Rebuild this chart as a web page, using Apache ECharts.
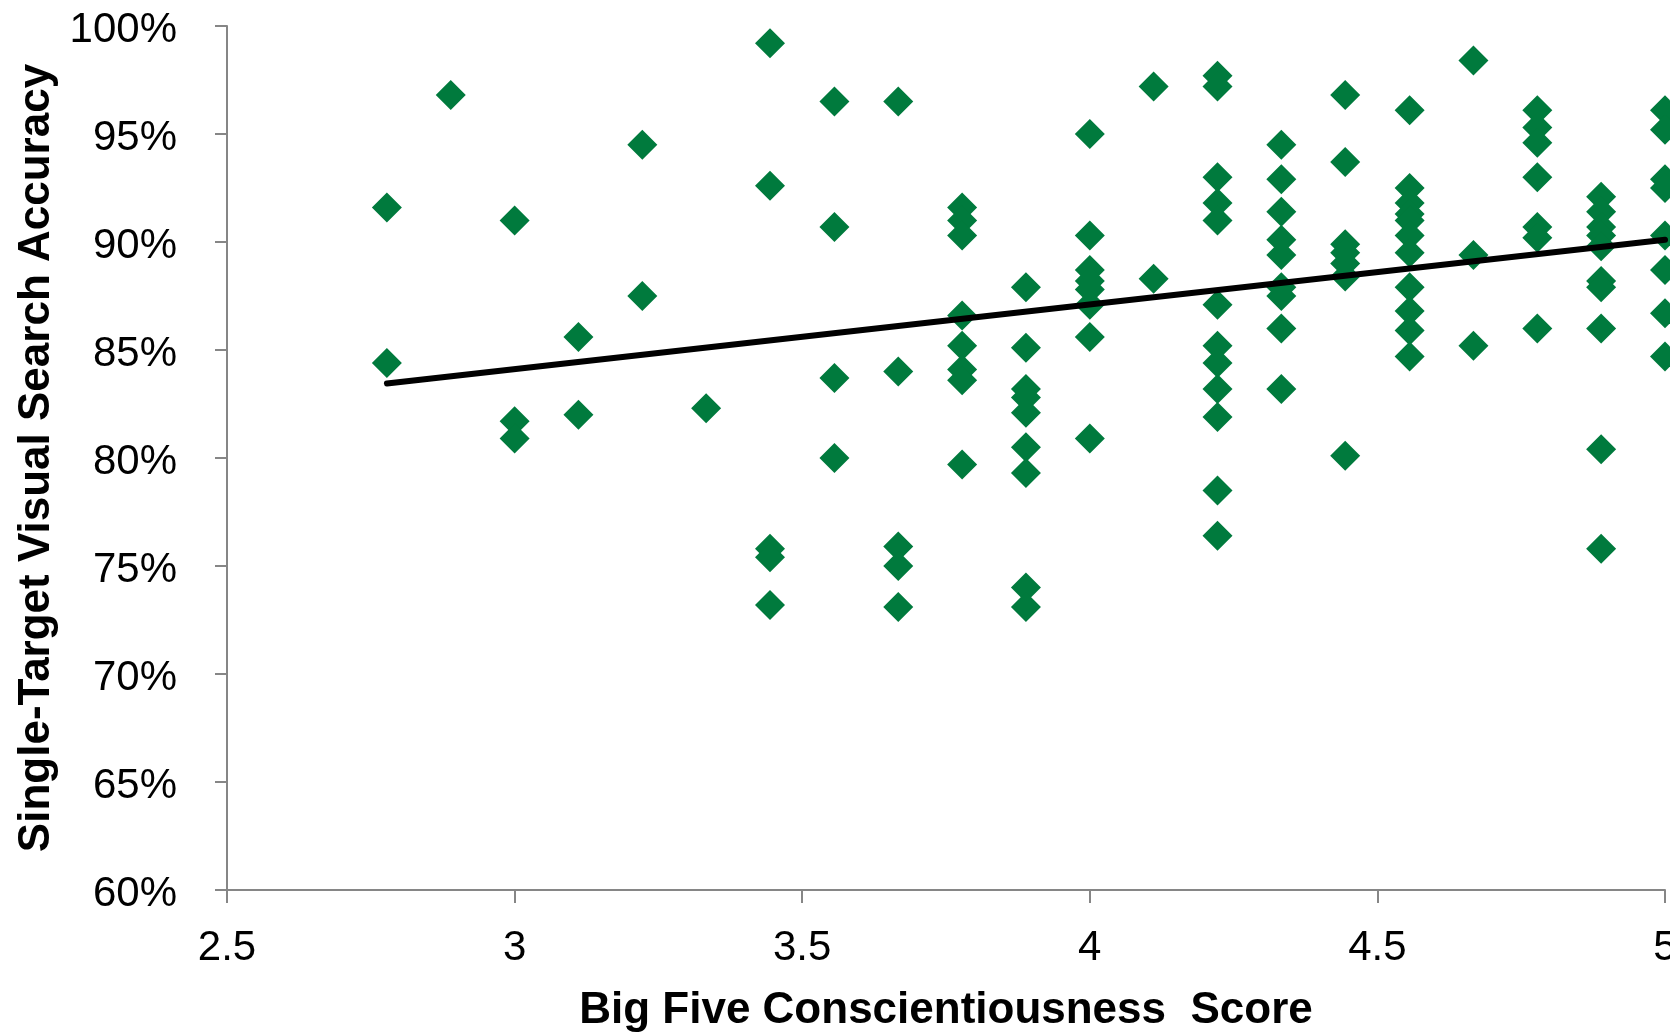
<!DOCTYPE html>
<html>
<head>
<meta charset="utf-8">
<title>Conscientiousness vs. Visual Search Accuracy</title>
<script src="https://cdn.jsdelivr.net/npm/echarts@6/dist/echarts.min.js"></script>
<style>
  html, body { margin: 0; padding: 0; background: #ffffff; }
  #chart { width: 1670px; height: 1034px; }
</style>
</head>
<body>
<div id="chart"></div>
<script>
// Conscientiousness score levels (mean of nine items, so steps of 1/9)
const scoreLevels = [2.778, 2.889, 3.0, 3.111, 3.222, 3.333, 3.444, 3.556, 3.667, 3.778,
                     3.889, 4.0, 4.111, 4.222, 4.333, 4.444, 4.556, 4.667, 4.778, 4.889, 5.0];

// Single-target accuracy (%) of the participants at each score level
const accuracyByLevel = [
  [91.6, 84.4],
  [96.8],
  [91.0, 81.7, 80.9],
  [85.6, 82.0],
  [94.5, 87.5],
  [82.3],
  [99.2, 92.6, 75.8, 75.4, 73.2],
  [96.5, 90.7, 83.7, 80.0],
  [96.5, 84.0, 75.9, 75.0, 73.1],
  [91.6, 91.0, 90.3, 86.6, 85.2, 84.1, 83.6, 79.7],
  [87.9, 85.1, 83.2, 82.8, 82.1, 80.5, 79.3, 74.0, 73.1],
  [95.0, 90.3, 88.7, 88.2, 87.8, 87.1, 85.6, 80.9],
  [97.2, 88.3],
  [97.7, 97.2, 93.0, 91.8, 91.0, 87.1, 85.2, 84.4, 83.2, 81.9, 78.5, 76.4],
  [94.5, 92.9, 91.4, 90.1, 89.4, 87.9, 87.5, 86.0, 83.2],
  [96.8, 93.7, 89.9, 89.5, 89.0, 88.4, 80.1],
  [96.1, 92.5, 91.8, 91.3, 91.0, 90.3, 89.5, 87.9, 86.8, 85.9, 84.7],
  [98.4, 89.4, 85.2],
  [96.1, 95.3, 94.6, 93.0, 90.7, 90.2, 86.0],
  [92.1, 91.4, 90.7, 90.3, 89.8, 88.2, 87.9, 86.0, 80.4, 75.8],
  [96.1, 95.2, 92.9, 92.5, 90.3, 88.7, 86.7, 84.7]
];

// Linear trend line end points
const trendScores = [2.778, 5.0];
const trendAccuracy = [83.45, 90.1];

const points = [];
scoreLevels.forEach(function (score, i) {
  accuracyByLevel[i].forEach(function (acc) { points.push([score, acc]); });
});
const trendPoints = trendScores.map(function (s, i) { return [s, trendAccuracy[i]]; });

const axisGray = '#868686';
const fontFamily = '"Liberation Sans", Arial, Helvetica, sans-serif';

const chart = echarts.init(document.getElementById('chart'), null, { renderer: 'canvas' });
chart.setOption({
  animation: false,
  backgroundColor: '#ffffff',
  grid: { left: 227, right: 5, top: 26, bottom: 144, containLabel: false, outerBoundsMode: 'none' },
  xAxis: {
    type: 'value',
    min: 2.5,
    max: 5,
    interval: 0.5,
    name: 'Big Five Conscientiousness  Score',
    nameLocation: 'middle',
    nameGap: 99,
    nameTextStyle: { fontFamily: fontFamily, fontSize: 44, fontWeight: 'bold', color: '#000' },
    axisLine: { show: true, onZero: false, lineStyle: { color: axisGray, width: 2 } },
    axisTick: { show: true, length: 13, lineStyle: { color: axisGray, width: 2 } },
    axisLabel: { fontFamily: fontFamily, fontSize: 42, color: '#000', margin: 37 },
    splitLine: { show: false }
  },
  yAxis: {
    type: 'value',
    min: 60,
    max: 100,
    interval: 5,
    name: 'Single-Target Visual Search Accuracy',
    nameLocation: 'middle',
    nameGap: 166,
    nameRotate: 90,
    nameTextStyle: { fontFamily: fontFamily, fontSize: 44, fontWeight: 'bold', color: '#000' },
    axisLine: { show: true, onZero: false, lineStyle: { color: axisGray, width: 2 } },
    axisTick: { show: true, length: 12, lineStyle: { color: axisGray, width: 2 } },
    axisLabel: {
      margin: 50,
      formatter: function (v) { return '{pct|' + v + '%}'; },
      rich: {
        pct: { fontFamily: fontFamily, fontSize: 42, color: '#000', padding: [8, 0, 0, 0] }
      }
    },
    splitLine: { show: false }
  },
  series: [
    {
      type: 'scatter',
      data: points,
      symbol: 'diamond',
      symbolSize: 30,
      itemStyle: { color: '#007A3D', opacity: 1 },
      z: 2
    },
    {
      type: 'line',
      data: trendPoints,
      showSymbol: false,
      symbol: 'none',
      lineStyle: { color: '#000000', width: 6, cap: 'round' },
      z: 3
    }
  ]
});
</script>
</body>
</html>
